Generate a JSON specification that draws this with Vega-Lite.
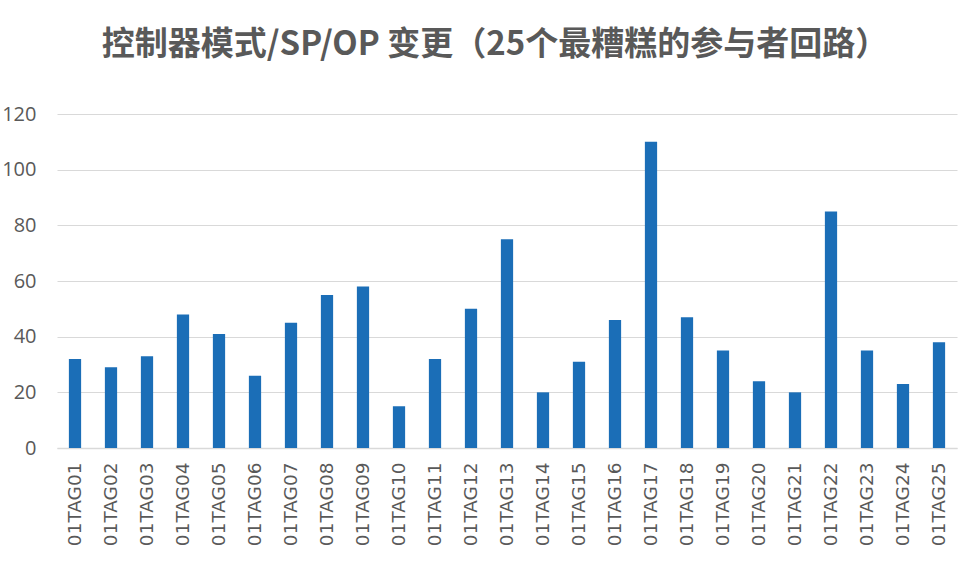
{
  "$schema": "https://vega.github.io/schema/vega-lite/v6.json",
  "autosize": "none",
  "width": 900,
  "height": 334,
  "padding": {"left": 57, "top": 114, "right": 2, "bottom": 113},
  "background": "white",
  "title": {
    "text": "控制器模式/SP/OP 变更（25个最糟糕的参与者回路）",
    "font": "Noto Sans CJK SC",
    "fontWeight": "bold",
    "fontSize": 33,
    "color": "#595959",
    "anchor": "middle",
    "dx": -12,
    "offset": 42
  },
  "data": {
    "values": [
      {"tag": "01TAG01", "count": 32},
      {"tag": "01TAG02", "count": 29},
      {"tag": "01TAG03", "count": 33},
      {"tag": "01TAG04", "count": 48},
      {"tag": "01TAG05", "count": 41},
      {"tag": "01TAG06", "count": 26},
      {"tag": "01TAG07", "count": 45},
      {"tag": "01TAG08", "count": 55},
      {"tag": "01TAG09", "count": 58},
      {"tag": "01TAG10", "count": 15},
      {"tag": "01TAG11", "count": 32},
      {"tag": "01TAG12", "count": 50},
      {"tag": "01TAG13", "count": 75},
      {"tag": "01TAG14", "count": 20},
      {"tag": "01TAG15", "count": 31},
      {"tag": "01TAG16", "count": 46},
      {"tag": "01TAG17", "count": 110},
      {"tag": "01TAG18", "count": 47},
      {"tag": "01TAG19", "count": 35},
      {"tag": "01TAG20", "count": 24},
      {"tag": "01TAG21", "count": 20},
      {"tag": "01TAG22", "count": 85},
      {"tag": "01TAG23", "count": 35},
      {"tag": "01TAG24", "count": 23},
      {"tag": "01TAG25", "count": 38}
    ]
  },
  "mark": {"type": "bar", "color": "#1B6EB7"},
  "encoding": {
    "x": {
      "field": "tag",
      "type": "nominal",
      "sort": null,
      "scale": {"paddingInner": 0.66, "paddingOuter": 0.33},
      "axis": {
        "title": null,
        "labelAngle": -90,
        "labelFont": "DejaVu Sans",
        "labelFontSize": 18.5,
        "labelColor": "#595959",
        "labelPadding": 14,
        "ticks": false,
        "domainColor": "#d9d9d9",
        "domainWidth": 1.5,
        "grid": false
      }
    },
    "y": {
      "field": "count",
      "type": "quantitative",
      "scale": {"domain": [0, 120], "nice": false},
      "axis": {
        "title": null,
        "values": [0, 20, 40, 60, 80, 100, 120],
        "labelFont": "Open Sans",
        "labelFontSize": 20,
        "labelColor": "#595959",
        "labelPadding": 21,
        "ticks": false,
        "domain": false,
        "gridColor": "#d9d9d9",
        "gridWidth": 1.2
      }
    }
  },
  "config": {"view": {"stroke": null}}
}
